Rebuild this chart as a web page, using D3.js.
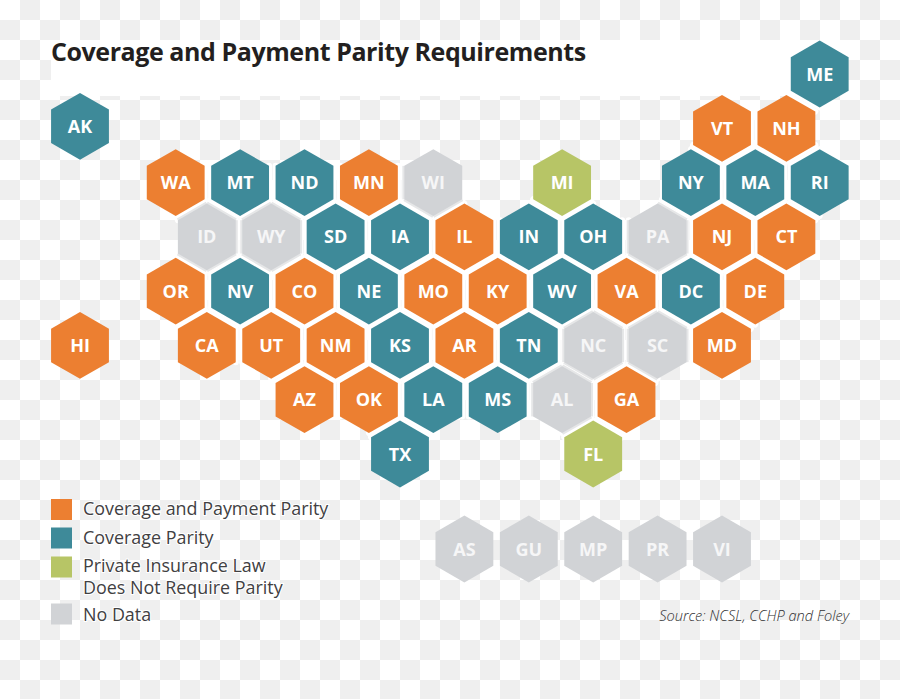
<!DOCTYPE html>
<html><head><meta charset="utf-8">
<script src="https://cdn.jsdelivr.net/npm/d3@7"></script>
<style>html,body{margin:0;padding:0;background:#fff}svg{display:block}text{font-family:"Open Sans",sans-serif}</style>
</head><body><svg id="c" width="900" height="699"></svg>
<script>
const titleText = "Coverage and Payment Parity Requirements";
const sourceText = "Source: NCSL, CCHP and Foley";
const categories = ["Coverage and Payment Parity","Coverage Parity","Private Insurance Law|Does Not Require Parity","No Data"];
const categoryColors = ["#ec7f31","#3e8a99","#b7c566","#d1d3d6"];
const haloColor = "#e6e7e8";
const stateCodes = ["ME","AK","VT","NH","WA","MT","ND","MN","WI","MI","NY","MA","RI","ID","WY","SD","IA","IL","IN","OH","PA","NJ","CT","OR","NV","CO","NE","MO","KY","WV","VA","DC","DE","HI","CA","UT","NM","KS","AR","TN","NC","SC","MD","AZ","OK","LA","MS","AL","GA","TX","FL","AS","GU","MP","PR","VI"];
const stateCols  = [23,0,20,22,3,5,7,9,11,15,19,21,23,4,6,8,10,12,14,16,18,20,22,3,5,7,9,11,13,15,17,19,21,0,4,6,8,10,12,14,16,18,20,7,9,11,13,15,17,10,16,12,14,16,18,20];
const stateRows  = [0,1,1,1,2,2,2,2,2,2,2,2,2,3,3,3,3,3,3,3,3,3,3,4,4,4,4,4,4,4,4,4,4,5,5,5,5,5,5,5,5,5,5,6,6,6,6,6,6,7,7,8.75,8.75,8.75,8.75,8.75];
const stateCats  = [1,1,0,0,0,1,1,0,3,2,1,1,1,3,3,1,1,0,1,1,3,0,0,0,1,0,1,0,0,1,0,1,0,0,0,0,0,1,0,1,3,3,0,0,0,1,1,3,0,1,2,3,3,3,3,3];
const x = d3.scaleLinear().domain([3,23]).range([175.7,819.7]);
const y = d3.scaleLinear().domain([0,7]).range([74,454]);
const colOffset = k => k===0 ? 0.9 : (k%2===0 ? -1.1 : 0);
const rowOffset = (k,r) => (k===0 && r===1) ? -2 : 0;
const r = 33.4;
const svg = d3.select("#c");
const defs = svg.append("defs");
const pat = defs.append("pattern").attr("id","chk").attr("width",40).attr("height",40).attr("patternUnits","userSpaceOnUse");
pat.append("rect").attr("width",40).attr("height",40).attr("fill","#fff");
pat.append("rect").attr("x",20).attr("width",20).attr("height",20).attr("fill","#efefef");
pat.append("rect").attr("y",20).attr("width",20).attr("height",20).attr("fill","#efefef");
svg.append("rect").attr("width",900).attr("height",699).attr("fill","url(#chk)");
svg.append("rect").attr("x",51).attr("y",40).attr("width",789).attr("height",56).attr("fill","#fff");
svg.append("text").attr("x",51).attr("y",61).attr("font-size",25).attr("font-weight",700).attr("fill","#231f20").attr("letter-spacing",-0.43).text(titleText);

const corners = d3.range(6).map(i=>{const a=Math.PI/3*i;return [r*Math.sin(a),-r*Math.cos(a)];});
const hexPts = corners.map(p=>p.join(",")).join(" ");
const hexData = stateCodes.map((c,i)=>({c,col:stateCols[i],row:stateRows[i],cat:stateCats[i],
  px:x(stateCols[i])+colOffset(stateCols[i]),py:y(stateRows[i])+rowOffset(stateCols[i],stateRows[i])}));
const edgeDirs = [[1,-1],[2,0],[1,1],[-1,1],[-2,0],[-1,-1]];
const mapHex = hexData.filter(d=>d.row<8);
const has = new Set(mapHex.map(d=>d.col+"_"+d.row));
const sharedEdges = [];
mapHex.forEach(d=>edgeDirs.forEach((e,i)=>{
  if(has.has((d.col+e[0])+"_"+(d.row+e[1]))) sharedEdges.push({d,i});
}));
const edgePath = ({d,i}) => { const a=corners[i],b=corners[(i+1)%6];
  return `M${d.px+a[0]},${d.py+a[1]}L${d.px+b[0]},${d.py+b[1]}`; };
svg.append("g").selectAll("path").data(sharedEdges).join("path").attr("d",edgePath).attr("stroke","#fff").attr("stroke-width",6).attr("stroke-linecap","round");
svg.append("g").selectAll("path").data(sharedEdges.filter(e=>e.d.cat===3)).join("path").attr("d",edgePath).attr("stroke",haloColor).attr("stroke-width",4);

const g = svg.selectAll("g.h").data(hexData).join("g").attr("class","h").attr("transform",d=>`translate(${d.px},${d.py})`);
g.append("polygon").attr("points",hexPts).attr("fill",d=>categoryColors[d.cat]);
g.append("text").attr("text-anchor","middle").attr("y",6.6).attr("font-size",18).attr("font-weight",700).attr("fill",d=>d.cat===3?"#f6f6f7":"#fff").text(d=>d.c);

const legY = [499,527.5,556.5,603.5];
const legTextDy = [16,16,15.5,17.5];
const lg = svg.selectAll("g.l").data(categories).join("g").attr("class","l").attr("transform",(d,i)=>`translate(51,${legY[i]})`);
lg.append("rect").attr("width",21).attr("height",21).attr("fill",(d,i)=>categoryColors[i]);
lg.each(function(d,li){
  d3.select(this).selectAll("text").data(d.split("|")).join("text").attr("x",32).attr("y",(t,i)=>legTextDy[li]+i*21.5)
    .attr("font-size",17.9).attr("fill","#414042").attr("stroke","#fff").attr("stroke-width",2).attr("paint-order","stroke").text(t=>t);
});
svg.append("text").attr("x",849).attr("y",621).attr("text-anchor","end").attr("font-size",14.6).attr("font-style","italic").attr("font-weight",300).attr("fill","#2f2f31").text(sourceText);
</script></body></html>
